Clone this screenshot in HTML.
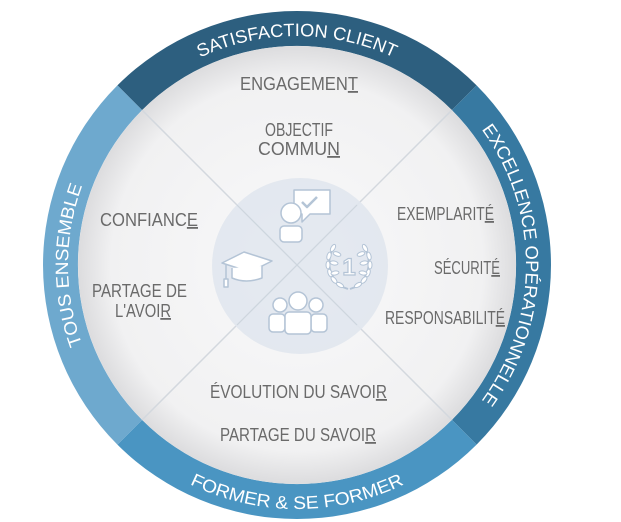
<!DOCTYPE html>
<html><head><meta charset="utf-8"><style>
html,body{margin:0;padding:0;background:#fff;width:621px;height:522px;overflow:hidden}
svg{display:block}
.t{font-family:"Liberation Sans",sans-serif;font-size:18px;fill:#6a6a6a;}
.r{font-family:"Liberation Sans",sans-serif;font-size:18px;fill:#fff;}
</style></head><body>
<svg width="621" height="522" viewBox="0 0 621 522" xmlns="http://www.w3.org/2000/svg">
<defs>
<radialGradient id="disc" cx="50%" cy="50%" r="50%">
<stop offset="0" stop-color="#f9f9fa"/><stop offset="0.85" stop-color="#f1f1f2"/><stop offset="1" stop-color="#dcdcde"/>
</radialGradient>
<path id="pTop" d="M98.7,150.5 A229,229 0 0 1 495.3,150.5"/>
<path id="pRight" d="M411.5,66.7 A229,229 0 0 1 411.5,463.3"/>
<path id="pLeft" d="M182.5,463.3 A229,229 0 0 1 182.5,66.7"/>
<path id="pBot" d="M85.7,387 A244,244 0 0 0 508.3,387"/>
<ellipse id="leaf" rx="4" ry="2" fill="#fff" stroke="#b4c4d6" stroke-width="1"/>
</defs>
<g transform="translate(297,265)">
<path d="M-179.6,-179.6 A254,254 0 0 1 179.6,-179.6 L154.9,-154.9 A219,219 0 0 0 -154.9,-154.9 Z" fill="#2d5f7f"/>
<path d="M179.6,-179.6 A254,254 0 0 1 179.6,179.6 L154.9,154.9 A219,219 0 0 0 154.9,-154.9 Z" fill="#3779a1"/>
<path d="M179.6,179.6 A254,254 0 0 1 -179.6,179.6 L-154.9,154.9 A219,219 0 0 0 154.9,154.9 Z" fill="#4a95c2"/>
<path d="M-179.6,179.6 A254,254 0 0 1 -179.6,-179.6 L-154.9,-154.9 A219,219 0 0 0 -154.9,154.9 Z" fill="#6ea9ce"/>
<circle r="219" fill="url(#disc)"/>
<line x1="-155" y1="-155" x2="155" y2="155" stroke="#d3d8de" stroke-width="1.5"/>
<line x1="155" y1="-155" x2="-155" y2="155" stroke="#d3d8de" stroke-width="1.5"/>
<circle cx="3" cy="1" r="88" fill="#e1e7ee" opacity="0.9"/>
<line x1="-60" y1="-60" x2="60" y2="60" stroke="#cdd5de" stroke-width="1.2"/>
<line x1="60" y1="-60" x2="-60" y2="60" stroke="#cdd5de" stroke-width="1.2"/>
</g>
<text class="r"><textPath href="#pTop" startOffset="50%" text-anchor="middle" textLength="200" lengthAdjust="spacingAndGlyphs">SATISFACTION CLIENT</textPath></text>
<text class="r"><textPath href="#pRight" startOffset="50%" text-anchor="middle" textLength="290" lengthAdjust="spacingAndGlyphs">EXCELLENCE OPÉRATIONNELLE</textPath></text>
<text class="r"><textPath href="#pLeft" startOffset="50%" text-anchor="middle" textLength="162" lengthAdjust="spacingAndGlyphs">TOUS ENSEMBLE</textPath></text>
<text class="r"><textPath href="#pBot" startOffset="50%" text-anchor="middle" textLength="222" lengthAdjust="spacingAndGlyphs">FORMER &amp; SE FORMER</textPath></text>
<g class="t">
<text x="240" y="90" textLength="118" lengthAdjust="spacingAndGlyphs">ENGAGEMEN<tspan text-decoration="underline">T</tspan></text>
<text x="265" y="136" textLength="68" lengthAdjust="spacingAndGlyphs">OBJECTIF</text>
<text x="258" y="155" textLength="82" lengthAdjust="spacingAndGlyphs">COMMU<tspan text-decoration="underline">N</tspan></text>
<text x="100" y="226" textLength="98" lengthAdjust="spacingAndGlyphs">CONFIANC<tspan text-decoration="underline">E</tspan></text>
<text x="92" y="297" textLength="95" lengthAdjust="spacingAndGlyphs">PARTAGE DE</text>
<text x="115" y="317" textLength="56" lengthAdjust="spacingAndGlyphs">L'AVOI<tspan text-decoration="underline">R</tspan></text>
<text x="397" y="220" textLength="97" lengthAdjust="spacingAndGlyphs">EXEMPLARIT<tspan text-decoration="underline">É</tspan></text>
<text x="434" y="274" textLength="66" lengthAdjust="spacingAndGlyphs">SÉCURIT<tspan text-decoration="underline">É</tspan></text>
<text x="385" y="324" textLength="120" lengthAdjust="spacingAndGlyphs">RESPONSABILIT<tspan text-decoration="underline">É</tspan></text>
<text x="210" y="398" textLength="177" lengthAdjust="spacingAndGlyphs">ÉVOLUTION DU SAVOI<tspan text-decoration="underline">R</tspan></text>
<text x="220" y="441" textLength="156" lengthAdjust="spacingAndGlyphs">PARTAGE DU SAVOI<tspan text-decoration="underline">R</tspan></text>
</g>
<g fill="#fff" stroke="#b4c4d6" stroke-width="1.5" stroke-linejoin="round">
<path d="M294,190 h36 v24 h-20 l-8,8 v-8 h-8 z"/>
<path d="M302,202 l5,5 l10,-10" fill="none" stroke="#b4c4d6" stroke-width="2.5"/>
<circle cx="291" cy="213" r="10"/>
<rect x="280" y="226" width="22" height="16" rx="4"/>
<path d="M222,263 l22,-11 l28,9 l-22,11 z"/>
<path d="M232,268 v10 q14,6 30,0 v-12"/>
<path d="M226,265 v14" fill="none"/>
<path d="M224,279 h4 v8 h-4 z"/>
<circle cx="280" cy="305" r="7"/>
<circle cx="316" cy="305" r="7"/>
<circle cx="298" cy="301" r="9"/>
<rect x="269" y="314" width="16" height="18" rx="4"/>
<rect x="311" y="314" width="16" height="18" rx="4"/>
<rect x="285" y="312" width="26" height="22" rx="4"/>
</g>
<!-- laurel -->
<path d="M334,246 Q322,268 340,286 L348,289" fill="none" stroke="#b4c4d6" stroke-width="2"/>
<path d="M364,246 Q376,268 358,286 L350,289" fill="none" stroke="#b4c4d6" stroke-width="2"/>
<use href="#leaf" transform="translate(333,248) rotate(-60)"/>
<use href="#leaf" transform="translate(329,256) rotate(-75)"/>
<use href="#leaf" transform="translate(328,265) rotate(-90)"/>
<use href="#leaf" transform="translate(330,273) rotate(-110)"/>
<use href="#leaf" transform="translate(334,280) rotate(-130)"/>
<use href="#leaf" transform="translate(340,285) rotate(-150)"/>
<use href="#leaf" transform="translate(337,254) rotate(20)"/>
<use href="#leaf" transform="translate(334,263) rotate(10)"/>
<use href="#leaf" transform="translate(335,273) rotate(-10)"/>
<use href="#leaf" transform="translate(365,248) rotate(60)"/>
<use href="#leaf" transform="translate(369,256) rotate(75)"/>
<use href="#leaf" transform="translate(370,265) rotate(90)"/>
<use href="#leaf" transform="translate(368,273) rotate(110)"/>
<use href="#leaf" transform="translate(364,280) rotate(130)"/>
<use href="#leaf" transform="translate(358,285) rotate(150)"/>
<use href="#leaf" transform="translate(361,254) rotate(-20)"/>
<use href="#leaf" transform="translate(364,263) rotate(-10)"/>
<use href="#leaf" transform="translate(363,273) rotate(10)"/>
<text x="349" y="275" font-family="Liberation Sans,sans-serif" font-size="24" font-weight="bold" fill="#fff" stroke="#b4c4d6" stroke-width="1.2" text-anchor="middle">1</text>
</svg>
</body></html>
